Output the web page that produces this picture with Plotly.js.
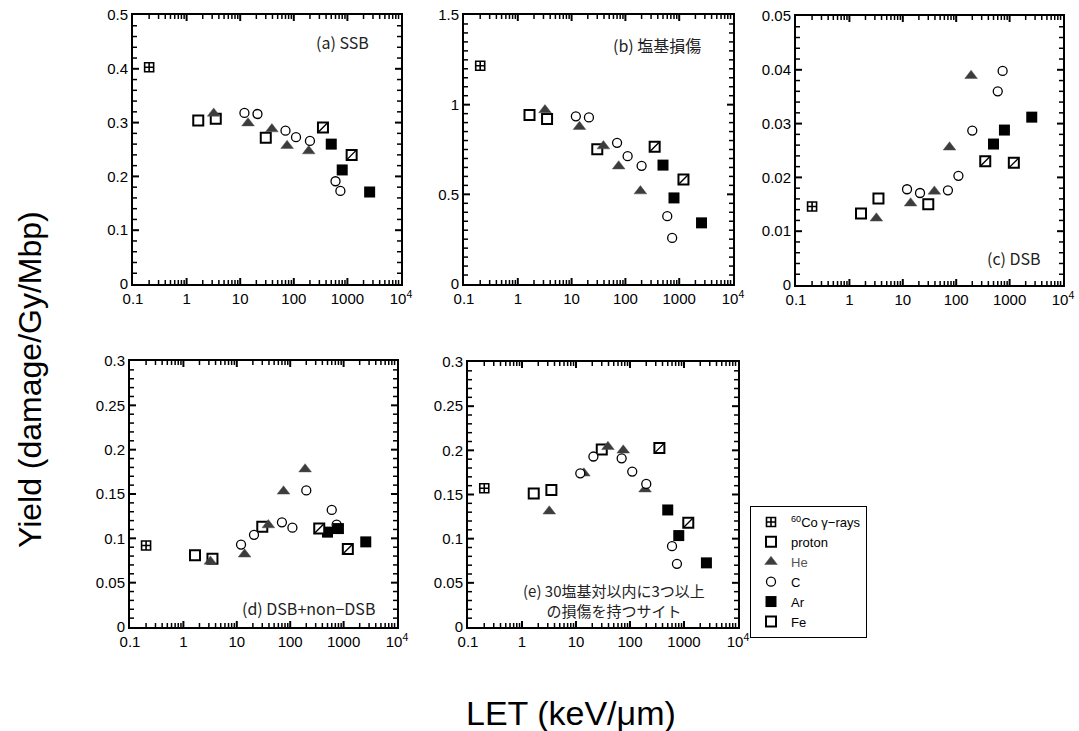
<!DOCTYPE html>
<html>
<head>
<meta charset="utf-8">
<script src="https://cdn.plot.ly/plotly-3.0.1.min.js"></script>
<style>html,body{margin:0;padding:0;background:#fff;}#chart{width:1079px;height:731px;}</style>
</head>
<body>
<div id="chart"></div>
<script>
// LET values (keV/µm) for each radiation
const LET_CO = [0.2];
const LET_PROTON = [1.65, 3.5, 30];
const LET_HE = [3.2, 14, 39, 75, 190];
const LET_C = [12, 21, 70, 110, 200, 600, 740];
const LET_AR = [500, 800, 2600];
const LET_FE = [350, 1200];

// (a) SSB
const SSB_CO = [0.403];
const SSB_PROTON = [0.304, 0.307, 0.272];
const SSB_HE = [0.317, 0.299, 0.288, 0.257, 0.247];
const SSB_C = [0.318, 0.316, 0.285, 0.273, 0.266, 0.191, 0.173];
const SSB_AR = [0.260, 0.212, 0.171];
const SSB_FE = [0.291, 0.240];

// (b) base damage
const BASE_CO = [1.217];
const BASE_PROTON = [0.942, 0.920, 0.752];
const BASE_HE = [0.970, 0.877, 0.769, 0.657, 0.518];
const BASE_C = [0.935, 0.929, 0.787, 0.713, 0.659, 0.378, 0.257];
const BASE_AR = [0.663, 0.480, 0.341];
const BASE_FE = [0.765, 0.583];

// (c) DSB
const DSB_CO = [0.0146];
const DSB_PROTON = [0.0133, 0.0161, 0.0150];
const DSB_HE = [0.0124, 0.0152, 0.0174, 0.0256, 0.0389];
const DSB_C = [0.0178, 0.0171, 0.0176, 0.0203, 0.0287, 0.0360, 0.0398];
const DSB_AR = [0.0262, 0.0288, 0.0312];
const DSB_FE = [0.0230, 0.0227];

// (d) DSB + non-DSB
const CLU_CO = [0.092];
const CLU_PROTON = [0.081, 0.077, 0.113];
const CLU_HE = [0.074, 0.082, 0.115, 0.153, 0.178];
const CLU_C = [0.093, 0.104, 0.118, 0.112, 0.154, 0.132, 0.1155];
const CLU_AR = [0.107, 0.111, 0.096];
const CLU_FE = [0.111, 0.088];

// (e) sites with >=3 damages within 30 bp
const SITE_CO = [0.157];
const SITE_PROTON = [0.151, 0.155, 0.201];
const SITE_HE = [0.131, 0.174, 0.204, 0.200, 0.156];
const SITE_C = [0.174, 0.193, 0.191, 0.176, 0.162, 0.0915, 0.0715];
const SITE_AR = [0.1325, 0.1035, 0.0726];
const SITE_FE = [0.2025, 0.118];

const SERIES_NAMES = ['<sup>60</sup>Co γ−rays', 'proton', '<span style="color:#555555">He</span>', 'C', 'Ar', 'Fe'];
const PANEL_LABELS = ['(a) SSB', '(b) 塩基損傷', '(c) DSB', '(d) DSB+non−DSB', '(e) 30塩基対以内に3つ以上<br>の損傷を持つサイト'];
const X_TICKVALS = [0.1, 1, 10, 100, 1000, 10000];
const X_TICKTEXT = ['0.1', '1', '10', '100', '1000', '10<sup>4</sup>'];
const X_TITLE = 'LET (keV/μm)';
const Y_TITLE = 'Yield (damage/Gy/Mbp)';

const panels = [
  {co: SSB_CO, p: SSB_PROTON, he: SSB_HE, c: SSB_C, ar: SSB_AR, fe: SSB_FE},
  {co: BASE_CO, p: BASE_PROTON, he: BASE_HE, c: BASE_C, ar: BASE_AR, fe: BASE_FE},
  {co: DSB_CO, p: DSB_PROTON, he: DSB_HE, c: DSB_C, ar: DSB_AR, fe: DSB_FE},
  {co: CLU_CO, p: CLU_PROTON, he: CLU_HE, c: CLU_C, ar: CLU_AR, fe: CLU_FE},
  {co: SITE_CO, p: SITE_PROTON, he: SITE_HE, c: SITE_C, ar: SITE_AR, fe: SITE_FE}
];

// minor log ticks: 2..9 within every decade shown
const X_MINOR = [];
X_TICKVALS.slice(0, -1).forEach(v => { for (let k = 2; k <= 9; k++) X_MINOR.push(v * k); });

const W = 1079, H = 731;
// pixel boxes [left, right, top, bottom]
const boxes = [
  [133, 401, 15, 284],
  [464, 733, 15, 284],
  [796, 1063, 16, 285],
  [130, 397, 361, 627],
  [468, 738, 362, 627]
];
const yRanges = [[0, 0.5], [0, 1.5], [0, 0.05], [0, 0.3], [0, 0.3]];
const yDticks = [0.1, 0.5, 0.01, 0.05, 0.05];
const yMinor = [0.02, 0.05, 0.002, 0.01, 0.01];
// label anchor [x px, y px, xanchor, size]
const labelPos = [[371, 42, 'right', 16], [703, 45, 'right', 16], [1043, 258, 'right', 16], [377, 608, 'right', 16], [614, 600, 'center', 15]];

const MAJ_LEN = 6, MIN_LEN = 4;
const traces = [];
const shapes = [];
const layout = {
  width: W, height: H,
  margin: {l: 0, r: 0, t: 0, b: 0},
  paper_bgcolor: '#fff', plot_bgcolor: '#fff',
  font: {family: 'Liberation Sans, Arial, sans-serif', size: 14, color: '#000'},
  showlegend: true,
  legend: {
    x: 750 / W, y: 1 - 506 / H, xanchor: 'left', yanchor: 'top',
    bordercolor: '#000', borderwidth: 1, bgcolor: '#fff',
    font: {family: 'Liberation Sans, Arial, sans-serif', size: 13, color: '#000'},
    tracegroupgap: 0
  },
  annotations: [],
  shapes: shapes
};

function xTick(xa, ya, v, len, w) {
  [[0, len], [1, -len]].forEach(([anc, l]) => shapes.push({
    type: 'line', layer: 'above', xref: xa, yref: ya + ' domain', ysizemode: 'pixel', yanchor: anc,
    x0: v, x1: v, y0: 0, y1: l, line: {color: '#000', width: w}
  }));
}
function yTick(xa, ya, v, len, w) {
  [[0, len], [1, -len]].forEach(([anc, l]) => shapes.push({
    type: 'line', layer: 'above', xref: xa + ' domain', yref: ya, xsizemode: 'pixel', xanchor: anc,
    x0: 0, x1: l, y0: v, y1: v, line: {color: '#000', width: w}
  }));
}

panels.forEach((d, i) => {
  const n = i + 1;
  const xa = 'x' + (n === 1 ? '' : n), ya = 'y' + (n === 1 ? '' : n);
  const first = i === 0;
  const lw = 2;
  traces.push({x: LET_CO, y: d.co, xaxis: xa, yaxis: ya, type: 'scatter', mode: 'markers', name: SERIES_NAMES[0],
    showlegend: first, legendgroup: 'co',
    marker: {symbol: 'square-cross', size: 9, color: '#fff', line: {color: '#000', width: 1.6}}});
  traces.push({x: LET_PROTON, y: d.p, xaxis: xa, yaxis: ya, type: 'scatter', mode: 'markers', name: SERIES_NAMES[1],
    showlegend: first, legendgroup: 'p',
    marker: {symbol: 'square', size: 10, color: '#fff', line: {color: '#000', width: lw}}});
  traces.push({x: LET_HE, y: d.he, xaxis: xa, yaxis: ya, type: 'scatter', mode: 'markers', name: SERIES_NAMES[2],
    showlegend: first, legendgroup: 'he',
    marker: {symbol: 'triangle-up', size: 11, color: '#3c3c3c', line: {color: '#555', width: 0.5}}});
  traces.push({x: LET_C, y: d.c, xaxis: xa, yaxis: ya, type: 'scatter', mode: 'markers', name: SERIES_NAMES[3],
    showlegend: first, legendgroup: 'c',
    marker: {symbol: 'circle', size: 9, color: '#fff', line: {color: '#000', width: 1.3}}});
  traces.push({x: LET_AR, y: d.ar, xaxis: xa, yaxis: ya, type: 'scatter', mode: 'markers', name: SERIES_NAMES[4],
    showlegend: first, legendgroup: 'ar',
    marker: {symbol: 'square', size: 11, color: '#000', line: {color: '#000', width: 0}}});
  traces.push({x: LET_FE, y: d.fe, xaxis: xa, yaxis: ya, type: 'scatter', mode: 'markers', name: SERIES_NAMES[5],
    showlegend: first, legendgroup: 'fe',
    marker: {symbol: 'square', size: 10, color: '#fff', line: {color: '#000', width: lw}}});
  traces.push({x: LET_FE, y: d.fe, xaxis: xa, yaxis: ya, type: 'scatter', mode: 'markers', name: 'Fe',
    showlegend: false, legendgroup: 'fe', hoverinfo: 'skip',
    marker: {symbol: 'line-ne', size: 9, line: {color: '#000', width: 1.4}}});

  const b = boxes[i];
  const axCommon = {
    showline: true, linecolor: '#000', linewidth: 2, mirror: true,
    ticks: '', showgrid: false, zeroline: false,
    tickfont: {family: 'Liberation Sans, Arial, sans-serif', size: 15, color: '#000'}
  };
  layout['xaxis' + (n === 1 ? '' : n)] = Object.assign({}, axCommon, {
    type: 'log', range: [-1, 4], anchor: ya,
    domain: [b[0] / W, b[1] / W],
    tickmode: 'array', tickvals: X_TICKVALS, ticktext: X_TICKTEXT
  });
  layout['yaxis' + (n === 1 ? '' : n)] = Object.assign({}, axCommon, {
    range: yRanges[i], anchor: xa,
    domain: [1 - b[3] / H, 1 - b[2] / H],
    tickmode: 'linear', dtick: yDticks[i], tick0: 0
  });

  // tick marks on all four sides, pointing inward
  X_TICKVALS.slice(1, -1).forEach(v => xTick(xa, ya, v, MAJ_LEN, 2));
  X_MINOR.forEach(v => xTick(xa, ya, v, MIN_LEN, 1.5));
  const top = yRanges[i][1];
  const nMin = Math.round(top / yMinor[i]);
  for (let k = 1; k < nMin; k++) {
    const v = +(k * yMinor[i]).toFixed(6);
    const isMajor = Math.abs(v / yDticks[i] - Math.round(v / yDticks[i])) < 1e-6;
    yTick(xa, ya, v, isMajor ? MAJ_LEN : MIN_LEN, isMajor ? 2 : 1.5);
  }

  const lp = labelPos[i];
  layout.annotations.push({xref: 'paper', yref: 'paper', x: lp[0] / W, y: 1 - lp[1] / H, xanchor: lp[2], yanchor: 'middle',
    align: 'center', showarrow: false, text: PANEL_LABELS[i],
    font: {family: 'Noto Sans CJK JP, sans-serif', size: lp[3], color: '#222'}});
});

layout.annotations.push(
  {xref: 'paper', yref: 'paper', x: 30 / W, y: 1 - 380 / H, xanchor: 'center', yanchor: 'middle', textangle: -90, showarrow: false,
    text: Y_TITLE, font: {family: 'Liberation Sans, Arial, sans-serif', size: 32, color: '#000'}},
  {xref: 'paper', yref: 'paper', x: 571 / W, y: 1 - 713 / H, xanchor: 'center', yanchor: 'middle', showarrow: false,
    text: X_TITLE, font: {family: 'Liberation Sans, Arial, sans-serif', size: 34, color: '#000'}}
);

Plotly.newPlot('chart', traces, layout, {displayModeBar: false});
</script>
</body>
</html>
